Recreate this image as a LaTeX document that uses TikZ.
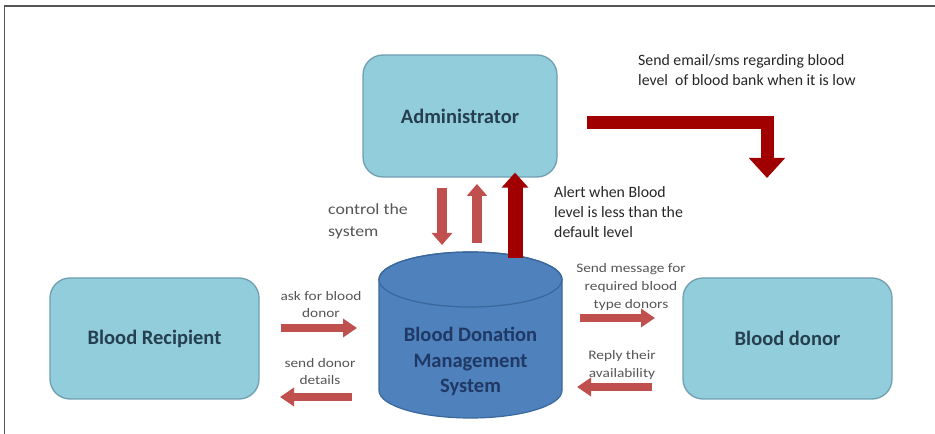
\documentclass[tikz,border=0pt]{standalone}
\usepackage{fontspec}
\usepackage{graphicx}
\setmainfont{Carlito}
\usetikzlibrary{arrows.meta}
\definecolor{boxfill}{HTML}{92CDDC}
\definecolor{boxline}{HTML}{6F9FB0}
\definecolor{boxtext}{HTML}{253F4E}
\definecolor{cylfill}{HTML}{4F81BD}
\definecolor{cylline}{HTML}{3A679C}
\definecolor{cyltext}{HTML}{1F3864}
\definecolor{lightred}{HTML}{C0504D}
\definecolor{darkred}{HTML}{A00000}
\definecolor{labgray}{HTML}{555555}
\definecolor{labdark}{HTML}{262626}
\definecolor{framecol}{HTML}{555555}
\newcommand\widetab[3]{\scalebox{#1}[1]{\begin{tabular}{@{}#2@{}}#3\end{tabular}}}
\begin{document}
\begin{tikzpicture}[x=1pt,y=1pt,
  box/.style={draw=boxline, line width=1.3pt, fill=boxfill, rounded corners=20pt,
    text=boxtext, font=\fontsize{20.5}{25}\selectfont\bfseries, inner sep=0pt},
  lab/.style={inner sep=0pt, text=labdark, font=\fontsize{15.8}{20}\selectfont},
  slab/.style={inner sep=0pt, text=labgray, font=\fontsize{13}{17.5}\selectfont},
  thinarrow/.style={draw=lightred, line width=8pt, -{Triangle[width=18pt,length=14pt]}},
  midarrow/.style={draw=lightred, line width=10pt, -{Triangle[width=20pt,length=12pt]}},
  bigarrow/.style={draw=darkred, line width=15pt, -{Triangle[width=26pt,length=15pt]}},
]
\useasboundingbox (0,0) rectangle (935,434);
% frame
\draw[framecol, line width=1.3pt] (4.5,0) -- (4.5,428) -- (935,428);

% boxes
\node[box, minimum width=194pt, minimum height=122pt] (admin) at (460,318) {Administrator};
\node[box, minimum width=209pt, minimum height=121pt] (recip) at (154.5,95.5) {Blood Recipient};
\node[box, minimum width=209pt, minimum height=121pt] (donor) at (787.5,95.5) {Blood donor};

% cylinder
\draw[cylline, line width=1.2pt, fill=cylfill] (379,154.5) -- (379,43.5)
  arc[start angle=180, end angle=360, x radius=91.5pt, y radius=27.5pt] -- (562,154.5)
  arc[start angle=0, end angle=180, x radius=91.5pt, y radius=27.5pt] -- cycle;
\draw[cylline, line width=1.2pt] (470.5,154.5) ellipse [x radius=91.5pt, y radius=27.5pt];
\node[inner sep=0pt, text=cyltext, font=\fontsize{20.5}{25.5}\selectfont\bfseries] (bdms) at (470.5,72)
  {\begin{tabular}{@{}c@{}}Blood Donation\\Management\\System\end{tabular}};

% dark red arrows
\coordinate (cyltop) at (515,176);
\draw[bigarrow] (cyltop) -- ([yshift=5pt]admin.south -| cyltop);
\coordinate (lstart) at (587,311.5);
\coordinate (lend) at (767,256);
\draw[bigarrow, line width=13pt, -{Triangle[width=35pt,length=20pt]}] (lstart) -| (lend);

% control arrows
\coordinate (cds) at (442,246);
\coordinate (cde) at (442,189);
\draw[midarrow] (cds) -- (cde);
\coordinate (cus) at (477,191);
\coordinate (cue) at (477,250);
\draw[midarrow] (cus) -- (cue);

% side arrows
\coordinate (r1s) at (281,106);
\coordinate (r1e) at (357,106);
\draw[thinarrow] (r1s) -- (r1e);
\coordinate (l1s) at (352,37);
\coordinate (l1e) at (280,37);
\draw[thinarrow] (l1s) -- (l1e);
\coordinate (r2s) at (580,116);
\coordinate (r2e) at (655,116);
\draw[thinarrow] (r2s) -- (r2e);
\coordinate (l2s) at (652,47);
\coordinate (l2e) at (577,47);
\draw[thinarrow] (l2s) -- (l2e);

% labels
\node[lab, anchor=north west] (lemail) at (638,383)
  {\begin{tabular}{@{}l@{}}Send email/sms regarding blood\\level\ \ of blood bank when it is low\end{tabular}};
\node[lab, anchor=north west] (lalert) at (554,251)
  {\begin{tabular}{@{}l@{}}Alert when Blood\\level is less than the\\default level\end{tabular}};
\node[slab, font=\fontsize{15.5}{22}\selectfont, anchor=north west] (lctrl) at (328,235.4)
  {\widetab{1.15}{l}{control the\\system}};
\node[slab, anchor=north] (lask) at (321,146) {\widetab{1.18}{c}{ask for blood\\donor}};
\node[slab, anchor=north] (lsend) at (320,79) {\widetab{1.18}{c}{send donor\\details}};
\node[slab, font=\fontsize{13}{18}\selectfont, anchor=north] (lmsg) at (631,174)
  {\widetab{1.18}{c}{Send message for\\required blood\\type donors}};
\node[slab, font=\fontsize{13}{18}\selectfont, anchor=north] (lreply) at (622,87)
  {\widetab{1.18}{c}{Reply their\\availability}};
\end{tikzpicture}
\end{document}
